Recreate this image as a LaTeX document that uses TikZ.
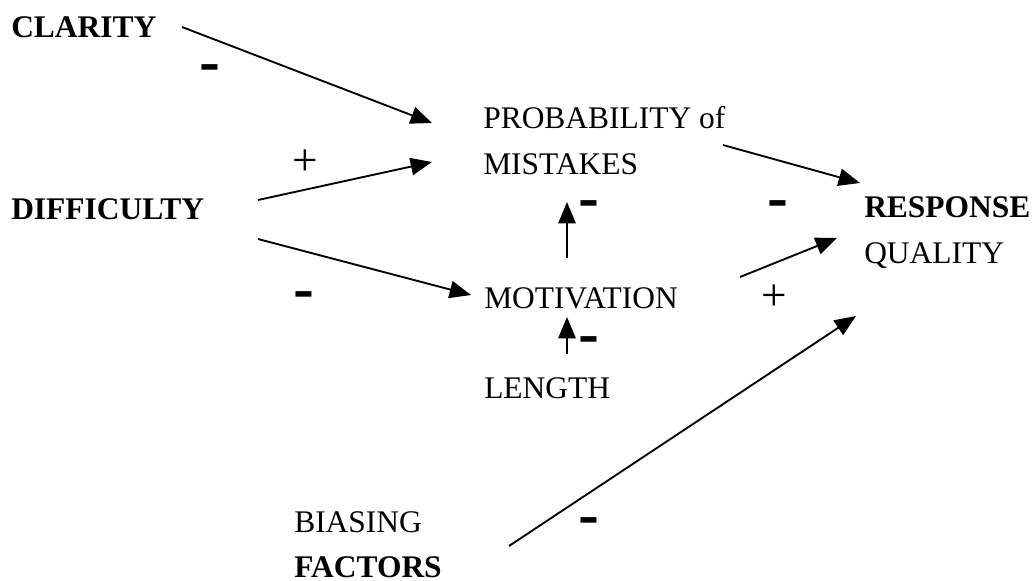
\documentclass[tikz,border=0pt]{standalone}
\usepackage{fontspec}
\setmainfont{Liberation Serif}
\newfontfamily\minusfont[FakeStretch=1.35]{Liberation Sans}
\usetikzlibrary{arrows.meta}
\begin{document}
\begin{tikzpicture}[x=0.75pt,y=-0.75pt,
  lbl/.style={anchor=north west, inner sep=0pt, align=left, font=\fontsize{23.6}{34.5}\selectfont},
  link/.style={line width=1.4pt, -{Triangle[length=16pt,width=13pt]}},
  negsign/.style={inner sep=0pt, yshift=-3.5pt, font=\minusfont\bfseries\fontsize{35}{40}\selectfont},
  plussign/.style={inner sep=0pt, font=\fontsize{34}{40}\selectfont}]
\useasboundingbox (0,0) rectangle (1032,581);

\node[lbl] (clarity) at (11,16) {\textbf{CLARITY}};
\node[lbl] (difficulty) at (11,198) {\textbf{DIFFICULTY}};
\node[lbl] (prob) at (483,106) {PROBABILITY of\\MISTAKES};
\node[lbl] (motiv) at (484,287) {MOTIVATION};
\node[lbl] (length) at (484,377) {LENGTH};
\node[lbl] (resp) at (864,196) {\textbf{RESPONSE}\\QUALITY};
\node[lbl, font=\fontsize{23.6}{33.75}\selectfont] (bias) at (294,511) {BIASING\\\textbf{FACTORS}};

\draw[link] ([shift={(171,11)}]clarity.north west) -- ([shift={(-51,17)}]prob.north west);
\draw[link] ([shift={(247,2)}]difficulty.north west) -- ([shift={(-51,56)}]prob.north west);
\draw[link] ([shift={(247,41)}]difficulty.north west) -- ([shift={(-13,8)}]motiv.north west);
\draw[link] ([shift={(240,39)}]prob.north west) -- ([shift={(-4,-13)}]resp.north west);
\draw[link] ([shift={(83,-29)}]motiv.north west) -- ([shift={(84,96)}]prob.north west);
\draw[link] ([shift={(83,-23)}]length.north west) -- ([shift={(83,30)}]motiv.north west);
\draw[link] ([shift={(256,-10)}]motiv.north west) -- ([shift={(-27,42)}]resp.north west);
\draw[link] ([shift={(215,35)}]bias.north west) -- ([shift={(-8,120)}]resp.north west);

\node[negsign] (s1) at (210,67) {-};
\node[plussign] (s2) at (305,163) {+};
\node[negsign] (s3) at (304,294) {-};
\node[negsign] (s4) at (589,203) {-};
\node[negsign] (s5) at (778,203) {-};
\node[plussign] (s6) at (774,298) {+};
\node[negsign] (s7) at (589,339) {-};
\node[negsign] (s8) at (589,520) {-};
\end{tikzpicture}
\end{document}
